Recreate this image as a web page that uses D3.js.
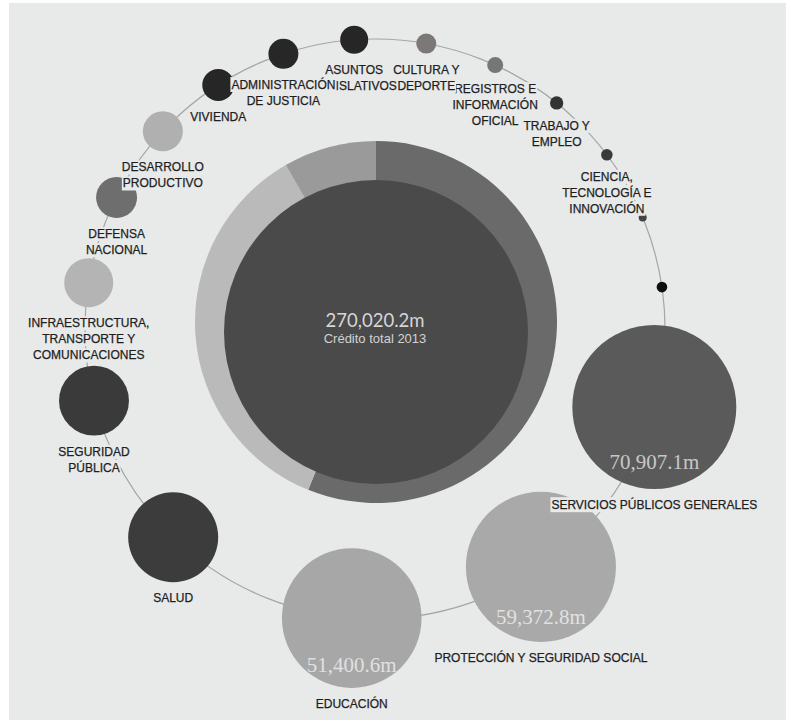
<!DOCTYPE html>
<html>
<head>
<meta charset="utf-8">
<script src="https://cdnjs.cloudflare.com/ajax/libs/d3/7.8.5/d3.min.js"></script>
<style>
  html, body { margin: 0; padding: 0; background: #fff; }
  svg { display: block; }
</style>
</head>
<body>
<svg id="chart"></svg>
<script>
// budget functions, clockwise from the right, in millions
var categories = ["SERVICIOS PÚBLICOS GENERALES", "PROTECCIÓN Y SEGURIDAD SOCIAL", "EDUCACIÓN", "SALUD",
  "SEGURIDAD PÚBLICA", "INFRAESTRUCTURA, TRANSPORTE Y COMUNICACIONES", "DEFENSA NACIONAL",
  "DESARROLLO PRODUCTIVO", "VIVIENDA", "ADMINISTRACIÓN DE JUSTICIA", "ASUNTOS LEGISLATIVOS",
  "CULTURA Y DEPORTE", "REGISTROS E INFORMACIÓN OFICIAL", "TRABAJO Y EMPLEO",
  "CIENCIA, TECNOLOGÍA E INNOVACIÓN", "", ""];
var values = [70907.1, 59372.8, 51400.6, 21350, 12900, 6330, 4430, 4220, 2700, 2370, 2070,
  1050, 675, 470, 350, 170, 300];
var shades = ["#5a5a5a", "#a9a9a9", "#a7a7a7", "#3c3c3c", "#3a3a3a", "#b4b4b4", "#6e6e6e",
  "#b0b0b0", "#262626", "#272727", "#262626", "#7d7878", "#767676", "#333333", "#3a3a3a",
  "#444444", "#0e0e0e"];
var labelledValues = 3; // only the biggest three carry their amount

// outer ring split (three groups of the total)
var ringValues = [151500, 96100, 22420];
var ringShades = ["#6a6a6a", "#bababa", "#9a9a9a"];

var totalLabel = "270,020.2m";
var totalCaption = "Crédito total 2013";

var W = 786, H = 725;
var bg = "#e8e9e9";
var svg = d3.select("#chart").attr("width", W).attr("height", H);

svg.append("rect")
  .attr("x", 9).attr("y", 3)
  .attr("width", W - 9).attr("height", 717)
  .attr("fill", bg);

var orbit = { cx: 375, cy: 329, r: 290 };
var ring = { cx: 376, cy: 322, r: 181 };
var core = { cx: 376, cy: 332, r: 152 };

var rScale = d3.scaleSqrt().domain([0, d3.max(values)]).range([0, 82]);

// place bubbles along the orbit, spacing grows with neighbour sizes
var rad = Math.PI / 180;
var minStep = 14.3 * rad, maxStep = 39.5 * rad;
var angle = 105.6 * rad;
var nodes = values.map(function (v, i) {
  return { name: categories[i], value: v, r: rScale(v), fill: shades[i], i: i };
});
nodes.forEach(function (d, i) {
  if (i > 0) {
    var step = 2 * (nodes[i - 1].r + d.r) / orbit.r;
    angle += Math.max(minStep, Math.min(maxStep, step));
  }
  d.x = orbit.cx + orbit.r * Math.sin(angle);
  d.y = orbit.cy - orbit.r * Math.cos(angle);
});

// guide circle
svg.append("circle")
  .attr("cx", orbit.cx).attr("cy", orbit.cy).attr("r", orbit.r)
  .attr("fill", "none")
  .attr("stroke", "#a2a7a9")
  .attr("stroke-width", 1.2);

// outer ring + core
var pie = d3.pie().sort(null);
var arc = d3.arc().innerRadius(0).outerRadius(ring.r);
svg.append("g")
  .attr("transform", "translate(" + ring.cx + "," + ring.cy + ")")
  .selectAll("path")
  .data(pie(ringValues))
  .join("path")
  .attr("d", arc)
  .attr("fill", function (d, i) { return ringShades[i]; });

svg.append("circle")
  .attr("cx", core.cx).attr("cy", core.cy).attr("r", core.r)
  .attr("fill", "#4a4a4a");

svg.append("text")
  .attr("x", 375).attr("y", 327)
  .attr("text-anchor", "middle")
  .attr("font-family", "Lato, 'Liberation Sans', sans-serif")
  .attr("font-size", 18.5)
  .attr("fill", "#d6d6d6")
  .text(totalLabel);
svg.append("text")
  .attr("x", 375).attr("y", 343)
  .attr("text-anchor", "middle")
  .attr("font-family", "'Liberation Sans', Arial, sans-serif")
  .attr("font-size", 13)
  .attr("fill", "#d2d2d2")
  .text(totalCaption);

// bubbles
var bubbles = svg.append("g").selectAll("g")
  .data(nodes)
  .join("g");
bubbles.append("circle")
  .attr("cx", function (d) { return d.x; })
  .attr("cy", function (d) { return d.y; })
  .attr("r", function (d) { return d.r; })
  .attr("fill", function (d) { return d.fill; });

var fmt = d3.format(",.1f");
bubbles.filter(function (d) { return d.i < labelledValues; })
  .append("text")
  .attr("x", function (d) { return d.x; })
  .attr("y", function (d) { return d.y + 0.67 * d.r + 7; })
  .attr("text-anchor", "middle")
  .attr("font-family", "'Liberation Serif', Georgia, serif")
  .attr("font-size", 21)
  .attr("fill", "#fff")
  .attr("fill-opacity", 0.68)
  .text(function (d) { return fmt(d.value) + "m"; });

// labels, smaller ones first so bigger ones sit on top
var labelFont = "'Liberation Sans', Arial, sans-serif";
var labelSize = 12;
var measure = svg.append("text")
  .attr("font-family", labelFont).attr("font-size", labelSize)
  .attr("visibility", "hidden");

function wrapLines(txt, maxW) {
  var words = txt.split(" "), lines = [], cur = "";
  words.forEach(function (w) {
    var test = cur ? cur + " " + w : w;
    measure.text(test);
    if (cur && measure.node().getComputedTextLength() > maxW) {
      lines.push(cur);
      cur = w;
    } else {
      cur = test;
    }
  });
  lines.push(cur);
  return lines;
}

var labelLayer = svg.append("g");
nodes.slice().reverse().forEach(function (d) {
  if (!d.name) return;
  var lines = d.i < labelledValues ? [d.name] : wrapLines(d.name, 100);
  var g = labelLayer.append("g");
  lines.forEach(function (line, k) {
    var t = g.append("text")
      .attr("x", d.x)
      .attr("y", d.y + d.r + 16 + k * 16)
      .attr("dy", "0.35em")
      .attr("text-anchor", "middle")
      .attr("font-family", labelFont)
      .attr("font-size", labelSize)
      .attr("fill", "#1e1e1e")
      .attr("stroke", "#1e1e1e")
      .attr("stroke-width", 0.25)
      .text(line);
    var bb = t.node().getBBox();
    g.insert("rect", "text")
      .attr("x", bb.x - 1).attr("y", bb.y)
      .attr("width", bb.width + 2).attr("height", bb.height)
      .attr("fill", bg);
  });
});
measure.remove();
</script>
</body>
</html>
